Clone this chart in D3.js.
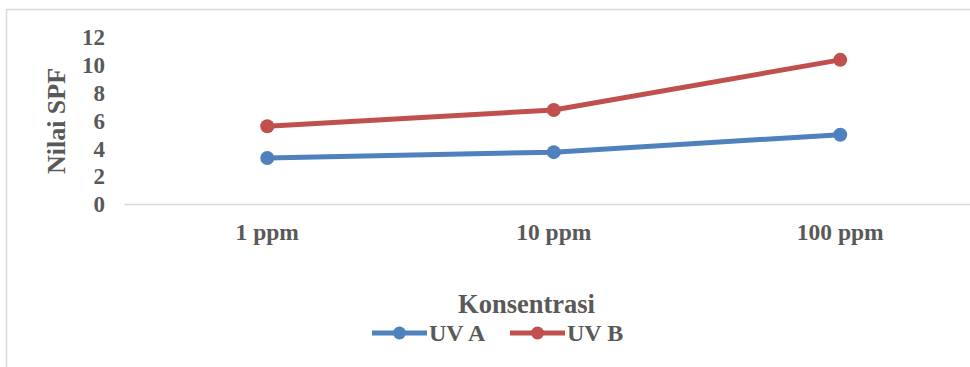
<!DOCTYPE html>
<html>
<head>
<meta charset="utf-8">
<script src="https://cdn.jsdelivr.net/npm/d3@7"></script>
<style>
  html, body { margin: 0; padding: 0; background: #ffffff; }
  svg { display: block; }
  text { font-family: "Liberation Serif", "Times New Roman", serif; font-weight: bold; fill: #595959; }
</style>
</head>
<body>
<svg id="chart" width="970" height="367"></svg>
<script>
// Concentrations on the x axis
const categories = ["1 ppm", "10 ppm", "100 ppm"];
// SPF values per series
const uvA = [3.30, 3.72, 4.97];
const uvB = [5.58, 6.74, 10.34];
const seriesNames = ["UV A", "UV B"];
const seriesColors = ["#4F81BD", "#C0504D"];
// Y axis ticks
const yTicks = [0, 2, 4, 6, 8, 10, 12];

const svg = d3.select("#chart");
const W = 970, H = 367;

// chart frame (extends past the right and bottom edges)
svg.append("rect")
  .attr("x", 6.5).attr("y", 9.5)
  .attr("width", W + 20).attr("height", H + 20)
  .attr("fill", "#ffffff")
  .attr("stroke", "#D9D9D9").attr("stroke-width", 1.5);

const x = d3.scaleBand().domain(categories).range([124, 124 + 3 * 286.5]).padding(0);
const y = d3.scaleLinear().domain([0, 12]).range([204, 36.7]);

// y tick labels (no axis line)
const yAxis = d3.axisLeft(y).tickValues(yTicks).tickSize(0).tickPadding(0);
const gy = svg.append("g").attr("transform", "translate(105,0)").call(yAxis);
gy.select(".domain").remove();
gy.selectAll("text")
  .attr("font-size", "23px")
  .attr("dy", "0.34em");

// x axis baseline and category labels
const xAxis = d3.axisBottom(x).tickSize(0).tickPadding(0);
const gx = svg.append("g").attr("transform", `translate(0,${y(0)})`).call(xAxis);
gx.select(".domain").attr("stroke", "#D9D9D9").attr("stroke-width", 1.5);
gx.selectAll("text")
  .attr("font-size", "23.5px")
  .attr("dy", null)
  .attr("y", 36);

// axis titles
svg.append("text")
  .attr("transform", "translate(65,121) rotate(-90)")
  .attr("text-anchor", "middle")
  .attr("font-size", "26px")
  .text("Nilai SPF");

svg.append("text")
  .attr("x", 526.5).attr("y", 313)
  .attr("text-anchor", "middle")
  .attr("font-size", "26.5px")
  .text("Konsentrasi");

// series lines and markers
const data = [uvA, uvB];
const line = d3.line()
  .x((d, i) => x(categories[i]) + x.bandwidth() / 2)
  .y(d => y(d));

data.forEach((vals, s) => {
  const g = svg.append("g");
  g.append("path")
    .datum(vals)
    .attr("d", line)
    .attr("fill", "none")
    .attr("stroke", seriesColors[s])
    .attr("stroke-width", 5)
    .attr("stroke-linejoin", "round");
  g.selectAll("circle")
    .data(vals)
    .join("circle")
    .attr("cx", (d, i) => x(categories[i]) + x.bandwidth() / 2)
    .attr("cy", d => y(d))
    .attr("r", 7)
    .attr("fill", seriesColors[s]);
});

// legend
const legendItems = [
  { name: seriesNames[0], color: seriesColors[0], x0: 372 },
  { name: seriesNames[1], color: seriesColors[1], x0: 510 }
];
const ly = 333;
legendItems.forEach(it => {
  const g = svg.append("g");
  g.append("line")
    .attr("x1", it.x0).attr("x2", it.x0 + 55)
    .attr("y1", ly).attr("y2", ly)
    .attr("stroke", it.color).attr("stroke-width", 5);
  g.append("circle")
    .attr("cx", it.x0 + 27.5).attr("cy", ly).attr("r", 6.5)
    .attr("fill", it.color);
  g.append("text")
    .attr("x", it.x0 + 57).attr("y", 341)
    .attr("font-size", "24px")
    .text(it.name);
});
</script>
</body>
</html>
